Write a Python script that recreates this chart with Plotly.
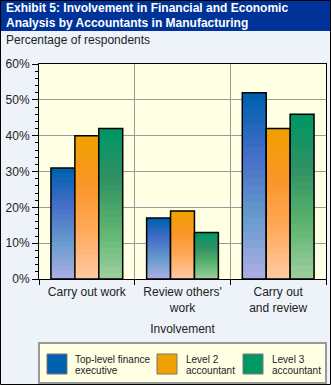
import plotly.graph_objects as go

# ---- data ----
categories = ["Carry out work", "Review others'<br>work", "Carry out<br>and review"]
series_names = ["Top-level finance executive", "Level 2 accountant", "Level 3 accountant"]
top_level = [31, 17, 52]
level2 = [40, 19, 42]
level3 = [42, 13, 46]
y_ticks = [0, 10, 20, 30, 40, 50, 60]
y_tick_labels = ["0%", "10%", "20%", "30%", "40%", "50%", "60%"]

# ---- styling ----
W, H = 331, 385
ML, MR, MT, MB = 39, 5, 64, 106
PW, PH = W - ML - MR, H - MT - MB
FONT = "Arial, Liberation Sans, sans-serif"

gradients = [
    [(0, 96, 176), (70, 110, 200), (102, 153, 204), (168, 174, 228)],
    [(240, 160, 0), (250, 150, 40), (255, 170, 90), (255, 200, 160)],
    [(0, 150, 100), (50, 145, 100), (90, 180, 110), (155, 205, 155)],
]
legend_colors = ["#0060b0", "#f0a000", "#009966"]


def px_x(px):
    return (px - ML) / PW


def px_y(py):
    return (H - MB - py) / PH


def interp(stops, t):
    n = len(stops) - 1
    pos = t * n
    i = min(int(pos), n - 1)
    f = pos - i
    a, b = stops[i], stops[i + 1]
    return "rgb(%d,%d,%d)" % tuple(round(a[j] + (b[j] - a[j]) * f) for j in range(3))


fig = go.Figure()
N = 24
for s, vals in enumerate([top_level, level2, level3]):
    for k in range(N):
        frac = (N - k) / N
        fig.add_trace(go.Bar(
            x=categories, y=[v * frac for v in vals],
            offsetgroup=str(s), marker=dict(color=interp(gradients[s], k / (N - 1)), line=dict(width=0)),
            showlegend=False, hoverinfo="skip",
        ))
    fig.add_trace(go.Bar(
        x=categories, y=vals, name=series_names[s], offsetgroup=str(s),
        marker=dict(color="rgba(0,0,0,0)", line=dict(color="black", width=1.5)),
        showlegend=False,
    ))

fig.update_layout(
    width=W, height=H,
    margin=dict(l=ML, r=MR, t=MT, b=MB, pad=0),
    paper_bgcolor="#eef3f9",
    plot_bgcolor="#ffffe4",
    barmode="group", bargap=0.25, bargroupgap=0,
    font=dict(family=FONT, size=12, color="#222"),
)
fig.update_xaxes(
    tickson="boundaries", ticks="outside", ticklen=5, tickcolor="black",
    ticklabelstandoff=2,
    showgrid=True, gridcolor="#999", gridwidth=1,
    showline=True, linecolor="black", linewidth=1, mirror=True,
    tickfont=dict(size=12, color="#222"),
    title=dict(text="Involvement", font=dict(size=12, color="#222"), standoff=10),
)
fig.update_yaxes(
    range=[0, 60], tickvals=y_ticks, ticktext=y_tick_labels,
    ticks="outside", ticklen=6, tickcolor="black",
    minor=dict(dtick=2, ticks="outside", ticklen=3, tickcolor="black", showgrid=False),
    showgrid=True, gridcolor="#999", gridwidth=1, zeroline=False,
    showline=True, linecolor="black", linewidth=1, mirror=True,
    tickfont=dict(size=12, color="#222"),
)

shapes = []
annotations = []
# title bar
shapes.append(dict(type="rect", xref="paper", yref="paper", x0=px_x(0), x1=px_x(W), y0=px_y(0), y1=px_y(31),
                   fillcolor="#003399", line=dict(width=0), layer="below"))
title_lines = ["Exhibit 5: Involvement in Financial and Economic", "Analysis by Accountants in Manufacturing"]
for j, line in enumerate(title_lines):
    annotations.append(dict(xref="paper", yref="paper", x=px_x(4), y=px_y(8 + 15 * j), xanchor="left",
                            yanchor="middle", text="<b>" + line + "</b>", showarrow=False,
                            font=dict(family=FONT, size=12, color="white")))
annotations.append(dict(xref="paper", yref="paper", x=px_x(4), y=px_y(40), xanchor="left", yanchor="middle",
                        text="Percentage of respondents", showarrow=False,
                        font=dict(family=FONT, size=12, color="#222")))
# legend box
shapes.append(dict(type="rect", xref="paper", yref="paper", x0=px_x(39), x1=px_x(326), y0=px_y(343), y1=px_y(383),
                   fillcolor="#ffffe4", line=dict(color="#999", width=2)))
sw_x = [47, 157, 243]
txt_x = [73, 184, 270]
legend_lines = [["Top-level finance", "executive"], ["Level 2", "accountant"], ["Level 3", "accountant"]]
for i in range(3):
    shapes.append(dict(type="rect", xref="paper", yref="paper", x0=px_x(sw_x[i]), x1=px_x(sw_x[i] + 20),
                       y0=px_y(354), y1=px_y(374), fillcolor=legend_colors[i], line=dict(color="#777", width=1)))
    for j, line in enumerate(legend_lines[i]):
        annotations.append(dict(xref="paper", yref="paper", x=px_x(txt_x[i]), y=px_y(359.5 + 11 * j),
                                xanchor="left", yanchor="middle", text=line, showarrow=False,
                                font=dict(family=FONT, size=10, color="#222")))
# outer frame
shapes.append(dict(type="rect", xref="paper", yref="paper", x0=px_x(0.5), x1=px_x(W - 0.5), y0=px_y(0.5), y1=px_y(H - 0.5),
                   line=dict(color="black", width=1), fillcolor="rgba(0,0,0,0)"))
fig.update_layout(shapes=shapes, annotations=annotations)

fig.write_html("out.html")
